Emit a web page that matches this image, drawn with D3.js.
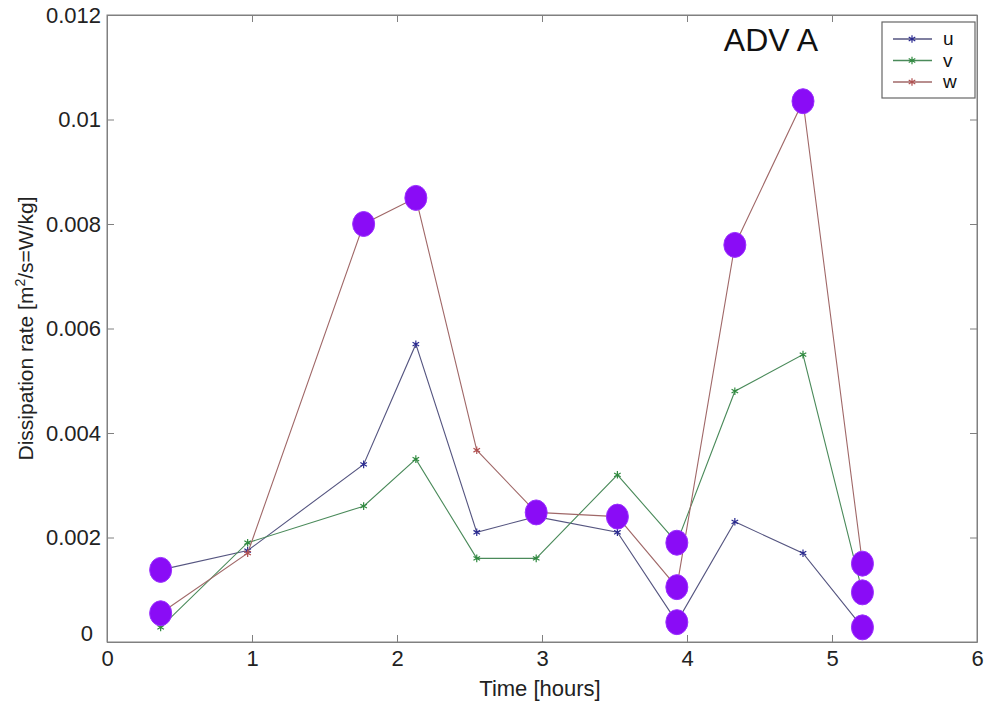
<!DOCTYPE html>
<html><head><meta charset="utf-8">
<script src="https://cdn.jsdelivr.net/npm/d3@7"></script>
<style>body{margin:0;background:#fff}svg{display:block}text{font-family:"Liberation Sans",Arial,sans-serif}</style>
</head><body><svg id="c" width="990" height="702"></svg>
<script>
const time = [0.37, 0.97, 1.77, 2.13, 2.55, 2.96, 3.52, 3.93, 4.33, 4.8, 5.21];
const uVals = [0.00138, 0.00175, 0.0034, 0.0057, 0.0021, 0.0024, 0.0021, 0.00038, 0.0023, 0.0017, 0.00028];
const vVals = [0.00028, 0.0019, 0.0026, 0.0035, 0.0016, 0.0016, 0.0032, 0.0019, 0.0048, 0.0055, 0.00095];
const wVals = [0.00055, 0.0017, 0.0080, 0.0085, 0.00367, 0.00248, 0.0024, 0.00105, 0.0076, 0.01035, 0.0015];
const seriesNames = ["u", "v", "w"];
// flagged points drawn with filled circles: [series index, point index]
const flagged = [[0,0],[2,0],[2,2],[2,3],[2,5],[2,6],[0,7],[1,7],[2,7],[2,8],[2,9],[0,10],[1,10],[2,10]];
const xTicks = [0,1,2,3,4,5,6];
const yTicks = [0,0.002,0.004,0.006,0.008,0.01,0.012];
const yTickLabels = ["0","0.002","0.004","0.006","0.008","0.01","0.012"];
const title = "ADV A";

const svg = d3.select("#c");
const L = 107, R = 977, T = 15, B = 642;
const x = d3.scaleLinear().domain([0,6]).range([L,R]);
const y = d3.scaleLinear().domain([0,0.012]).range([B,T]);
const colors = ["#555580", "#4a8a5a", "#a06868"];
const markerCol = ["#2a2a90", "#2f8a3f", "#b05050"];
const axisCol = "#808080";

// box
svg.append("rect").attr("x",L).attr("y",T).attr("width",R-L).attr("height",B-T)
  .attr("fill","none").attr("stroke",axisCol).attr("stroke-width",1);

// axes with inward ticks
const gx = svg.append("g").attr("transform",`translate(0,${B})`)
  .call(d3.axisBottom(x).tickValues(xTicks).tickSizeInner(-7).tickSizeOuter(0).tickPadding(8).tickFormat(d3.format("d")));
const gxTop = svg.append("g").attr("transform",`translate(0,${T})`)
  .call(d3.axisTop(x).tickValues(xTicks).tickSizeInner(-7).tickSizeOuter(0).tickFormat(""));
const gy = svg.append("g").attr("transform",`translate(${L},0)`)
  .call(d3.axisLeft(y).tickValues(yTicks).tickSizeInner(-7).tickSizeOuter(0).tickPadding(6).tickFormat((d,i)=>yTickLabels[i]));
const gyR = svg.append("g").attr("transform",`translate(${R},0)`)
  .call(d3.axisRight(y).tickValues(yTicks).tickSizeInner(-7).tickSizeOuter(0).tickFormat(""));
[gx,gxTop,gy,gyR].forEach(g=>{
  g.select(".domain").attr("stroke",axisCol);
  g.selectAll(".tick line").attr("stroke",axisCol);
  g.selectAll(".tick text").attr("fill","#222").style("font-size","22px");
});
gy.selectAll(".tick").filter(d=>d===0).select("text").attr("dy","-0.05em").attr("dx","-8");

// labels
svg.append("text").attr("x",(L+R)/2-2).attr("y",696).attr("text-anchor","middle")
  .attr("fill","#222").style("font-size","22px").text("Time [hours]");
const yl = svg.append("text").attr("transform",`translate(33,${(T+B)/2}) rotate(-90)`)
  .attr("text-anchor","middle").attr("fill","#222").style("font-size","21px");
yl.append("tspan").text("Dissipation rate [m");
yl.append("tspan").attr("baseline-shift","super").style("font-size","14px").text("2");
yl.append("tspan").text("/s=W/kg]");

// title
svg.append("text").attr("x",771).attr("y",51).attr("text-anchor","middle")
  .attr("fill","#111").style("font-size","32px").text(title);

const allVals = [uVals, vVals, wVals];
const line = d3.line().x((d,i)=>x(time[i])).y(d=>y(d));
const star = d3.symbol().type(d3.symbolAsterisk).size(40);

allVals.forEach((vals,s)=>{
  svg.append("path").datum(vals).attr("d",line).attr("fill","none")
    .attr("stroke",colors[s]).attr("stroke-width",1.1);
  svg.append("g").selectAll("path").data(vals).join("path")
    .attr("transform",(d,i)=>`translate(${x(time[i])},${y(d)})`)
    .attr("d",star).attr("fill","none").attr("stroke",markerCol[s]).attr("stroke-width",1.2);
});

// flagged circles
svg.append("g").selectAll("ellipse").data(flagged).join("ellipse")
  .attr("cx",d=>x(time[d[1]])).attr("cy",d=>y(allVals[d[0]][d[1]]))
  .attr("rx",11).attr("ry",12.5).attr("fill","#8a0cf6").attr("stroke","#9a30ff").attr("stroke-width",1);

// legend
const lg = svg.append("g");
lg.append("rect").attr("x",882).attr("y",22).attr("width",93).attr("height",76)
  .attr("fill","#fff").attr("stroke","#666").attr("stroke-width",1.2);
seriesNames.forEach((n,s)=>{
  const ly = 39 + s*21.5;
  lg.append("line").attr("x1",893).attr("x2",932).attr("y1",ly).attr("y2",ly)
    .attr("stroke",colors[s]).attr("stroke-width",1.3);
  lg.append("path").attr("transform",`translate(912,${ly})`).attr("d",star)
    .attr("fill","none").attr("stroke",markerCol[s]).attr("stroke-width",1.2);
  lg.append("text").attr("x",943).attr("y",ly+6).attr("fill","#111")
    .style("font-size","19px").text(n);
});
</script></body></html>
